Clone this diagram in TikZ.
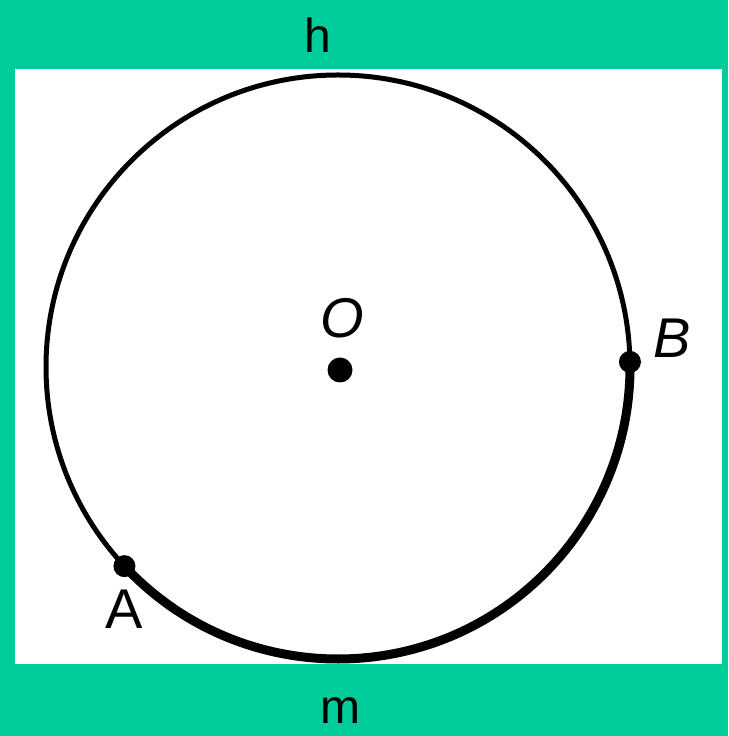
\documentclass[tikz,border=0pt]{standalone}
\usepackage{fontspec}
\setmainfont{Liberation Sans}
\usetikzlibrary{positioning}
\definecolor{bggreen}{HTML}{00CC9A}
\tikzset{
  dot/.style={circle, fill=black, inner sep=0pt, minimum size=#1},
  dot/.default=25pt,
  ptlbl/.style={font=\fontsize{56}{56}\selectfont, inner sep=0pt},
  caption/.style={font=\fontsize{48}{48}\selectfont, inner sep=0pt},
}
\begin{document}
\begin{tikzpicture}[x=1pt, y=1pt]
  \useasboundingbox (0,0) rectangle (728,736);
  \fill[bggreen] (0,0) rectangle (728,736);
  \fill[white] (15,72) rectangle (722,667);

  \coordinate (ctr) at (338,369);
  % thin upper part and thick lower arc AB
  \draw[line width=5pt] (ctr) circle[radius=292pt];
  \draw[line width=9pt] ([shift={(223:292pt)}]ctr) arc[start angle=223, end angle=361, radius=292pt];

  \node[dot] (O) at (340,366) {};
  \node[dot=22pt] (B) at ([shift={(1:292pt)}]ctr) {};
  \node[dot=22pt] (A) at ([shift={(223:292pt)}]ctr) {};

  \node[ptlbl, font=\fontsize{56}{56}\selectfont\itshape] (Olbl) at (342,418) {O};
  \node[ptlbl, font=\fontsize{56}{56}\selectfont\itshape] (Blbl) at (672,398) {B};
  \node[ptlbl, below=12pt of A] (Albl) {A};

  \node[caption] (top) at (318,701) {h};
  \node[caption] (bottom) at (340,25) {m};
\end{tikzpicture}
\end{document}
